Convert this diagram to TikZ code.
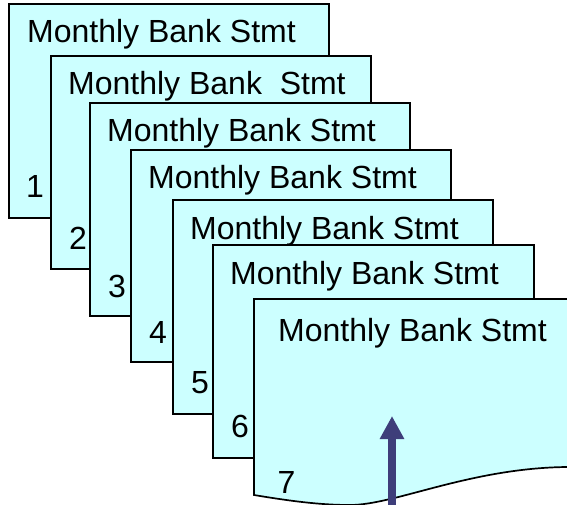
\documentclass[tikz,border=0pt]{standalone}
\usepackage{fontspec}
\setmainfont{Liberation Sans}
\usetikzlibrary{arrows.meta}
\definecolor{sheet}{RGB}{204,255,255}
\definecolor{pointer}{RGB}{62,62,122}
\begin{document}
\begin{tikzpicture}[x=1pt,y=-1pt,
  sheetbox/.style={draw=black, line width=1.7pt, fill=sheet, rectangle,
    anchor=north west, inner sep=0pt, minimum width=320pt, minimum height=213pt},
  caption/.style={anchor=base west, inner sep=0pt, font=\fontsize{32}{36}\selectfont}]
\clip (0,0) rectangle (567,505);

% stacked statement sheets, back to front
\node[sheetbox, minimum height=214pt] (p1) at (8,3) {};
\node[caption] (t1) at (27,43) {Monthly Bank Stmt};
\node[caption] (n1) at (26,197) {1};

\node[sheetbox] (p2) at (50,55) {};
\node[caption] (t2) at (68,95) {Monthly Bank\ \ Stmt};
\node[caption] (n2) at (69,249) {2};

\node[sheetbox] (p3) at (89,102) {};
\node[caption] (t3) at (107,142) {Monthly Bank Stmt};
\node[caption] (n3) at (108,297) {3};

\node[sheetbox, minimum height=212pt] (p4) at (130,149) {};
\node[caption] (t4) at (148,189) {Monthly Bank Stmt};
\node[caption] (n4) at (149,343) {4};

\node[sheetbox, minimum height=214pt] (p5) at (172,199) {};
\node[caption] (t5) at (190,239) {Monthly Bank Stmt};
\node[caption] (n5) at (191,393) {5};

\node[sheetbox, minimum width=321pt] (p6) at (212,244) {};
\node[caption] (t6) at (230,284) {Monthly Bank Stmt};
\node[caption] (n6) at (231,437) {6};

% front sheet with a torn (wavy) lower edge
\path[draw=black, line width=1.7pt, fill=sheet]
  (254,299) -- (254,495)
  .. controls (290,501) and (320,505) .. (350,505)
  .. controls (395,505) and (470,468) .. (567,467)
  -- (610,467) -- (610,299) -- cycle;
\node[caption] (t7) at (278,341) {Monthly Bank Stmt};
\node[caption] (n7) at (277.5,493) {7};

% pointer arrow
\coordinate (tail) at (392,530);
\coordinate (tip) at (392,416);
\draw[pointer, line width=8pt, -{Triangle[length=23pt,width=23pt]}] (tail) -- (tip);
\end{tikzpicture}
\end{document}
